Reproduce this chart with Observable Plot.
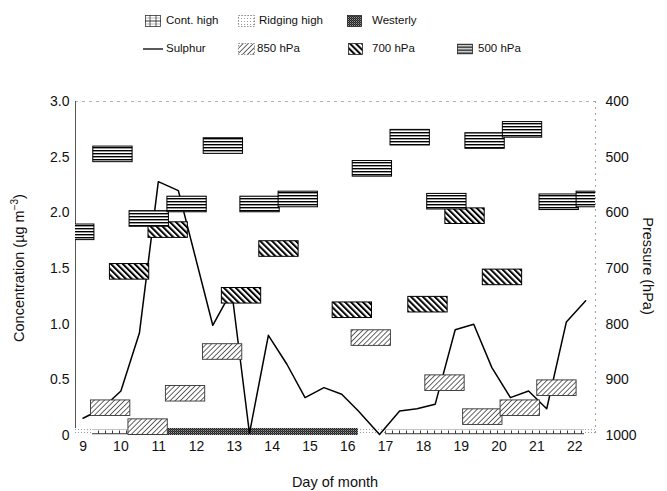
<!DOCTYPE html>
<html><head><meta charset="utf-8">
<script src="https://cdn.jsdelivr.net/npm/d3@7"></script>
<script src="https://cdn.jsdelivr.net/npm/@observablehq/plot@0.6"></script>
<style>
body{margin:0;background:#fff;font-family:"Liberation Sans",Arial,sans-serif;}
#wrap{position:relative;width:667px;height:491px;overflow:hidden;background:#fff}
#chart{position:absolute;left:0;top:0}
.lg{position:absolute;font-size:11.5px;color:#111;line-height:1;white-space:nowrap;transform:translateY(-50%)}
.ic{position:absolute;transform:translateY(-50%)}
.ax{position:absolute;font-size:14.5px;color:#111;white-space:nowrap;line-height:1}
</style></head><body>
<svg width="0" height="0" style="position:absolute"><defs>
<pattern id="pat500" patternUnits="userSpaceOnUse" width="6" height="3">
  <rect width="6" height="3" fill="#fff"/><rect width="6" height="1.4" fill="#000"/>
</pattern>
<pattern id="pat700" patternUnits="userSpaceOnUse" width="4.2" height="4.2" patternTransform="rotate(-45)">
  <rect width="4.2" height="4.2" fill="#fff"/><rect width="2" height="4.2" fill="#000"/>
</pattern>
<pattern id="pat850" patternUnits="userSpaceOnUse" width="3.6" height="3.6" patternTransform="rotate(45)">
  <rect width="3.6" height="3.6" fill="#fff"/><rect width="0.9" height="3.6" fill="#555"/>
</pattern>
<pattern id="patWest" patternUnits="userSpaceOnUse" width="2" height="2">
  <rect width="2" height="2" fill="#222"/><rect x="1" y="0" width="1" height="1" fill="#999"/><rect x="0" y="1" width="1" height="1" fill="#555"/>
</pattern>
<pattern id="patRidge" patternUnits="userSpaceOnUse" width="3" height="3">
  <rect width="3" height="3" fill="#fff"/><rect width="1" height="1" fill="#999"/>
</pattern>
<pattern id="patCont" patternUnits="userSpaceOnUse" x="0" y="1" width="7" height="7">
  <rect width="7" height="7" fill="#fff"/>
  <rect y="1" width="7" height="0.7" fill="#aaa"/>
  <rect y="5.3" width="7" height="0.9" fill="#222"/>
  <rect x="0" y="2.5" width="0.9" height="3" fill="#222"/>
</pattern>
</defs></svg>
<div id="wrap"><div id="chart"></div></div>
<script>
// ---- data ----
const days = [9,10,11,12,13,14,15,16,17,18,19,20,21,22];
const sulphurDay  = [9.0, 9.5, 10.0, 10.49, 10.99, 11.52, 12.43, 12.93, 13.4, 13.9, 14.39, 14.87, 15.37, 15.84, 16.28, 16.84, 17.37, 17.83, 18.31, 18.84, 19.33, 19.81, 20.3, 20.78, 21.26, 21.78, 22.29];
const sulphurConc = [0.155, 0.24, 0.40, 0.92, 2.28, 2.20, 0.99, 1.30, 0.02, 0.90, 0.64, 0.34, 0.43, 0.37, 0.22, 0.01, 0.22, 0.24, 0.28, 0.95, 1.00, 0.61, 0.34, 0.40, 0.24, 1.02, 1.21];

const h500Start = [8.26, 9.27, 10.23, 11.23, 12.19, 13.16, 14.17, 16.13, 17.13, 18.10, 19.11, 20.10, 21.07, 22.05];
const h500Pres  = [635, 495, 611, 585, 480, 585, 576, 521, 465, 580, 471, 451, 581, 576];
const h700Start = [9.71, 10.73, 12.67, 13.66, 15.60, 17.60, 18.58, 19.57];
const h700Pres  = [706, 631, 749, 665, 775, 765, 606, 716];
const h850Start = [9.21, 10.20, 11.19, 12.17, 16.10, 18.05, 19.05, 20.04, 21.01];
const h850Pres  = [951, 985, 925, 850, 825, 906, 967, 951, 915];

const synType  = ["Ridging high", "Cont. high", "Westerly", "Ridging high", "Cont. high", "Ridging high"];
const synStart = [8.8, 9.25, 10.25, 16.28, 17.0, 22.26];
const synEnd   = [9.25, 10.25, 16.28, 17.0, 22.26, 22.55];

const concTicks = [0, 0.5, 1, 1.5, 2, 2.5, 3];
const presTicks = [1000, 900, 800, 700, 600, 500, 400];

const legendRow1 = ["Cont. high", "Ridging high", "Westerly"];
const legendRow2 = ["Sulphur", "850 hPa", "700 hPa", "500 hPa"];

// ---- derived tables ----
const toConc = p => (1000 - p) / 200;
const boxW = 1.04, boxH = 14;
const line = sulphurDay.map((d, i) => ({day: d, conc: sulphurConc[i]}));
const mkBoxes = (st, pr) => st.map((s, i) => ({x1: s, x2: s + boxW, y1: toConc(pr[i] + boxH), y2: toConc(pr[i] - boxH)}));
const b500 = mkBoxes(h500Start, h500Pres);
const b700 = mkBoxes(h700Start, h700Pres);
const b850 = mkBoxes(h850Start, h850Pres);
const band = synType.map((t, i) => ({type: t, x1: synStart[i], x2: synEnd[i]}));
const patOf = {"Ridging high": "url(#patRidge)", "Cont. high": "url(#patCont)", "Westerly": "url(#patWest)"};
const bandMarks = Object.keys(patOf).map(t =>
  Plot.rect(band.filter(d => d.type === t), {x1: "x1", x2: "x2", y1: 0, y2: 0.063, fill: patOf[t], clip: true}));

const plot = Plot.plot({
  width: 667, height: 491,
  marginLeft: 75, marginRight: 72, marginTop: 101, marginBottom: 56,
  x: {domain: [8.8, 22.55]},
  y: {domain: [0, 3]},
  style: {fontFamily: "'Liberation Sans', Arial, sans-serif", fontSize: "14px", color: "#111", background: "transparent"},
  marks: [
    Plot.ruleY([3], {stroke: "#999", strokeDasharray: "3,4", strokeWidth: 0.8}),
    Plot.ruleX([8.8], {stroke: "#555", strokeWidth: 1}),
    Plot.ruleX([22.55], {stroke: "#888", strokeDasharray: "2,4", strokeWidth: 0.8}),
    Plot.axisY({anchor: "left", ticks: concTicks, tickFormat: d => d === 0 ? "0" : d.toFixed(1), tickSize: 0, tickPadding: 6, label: null, fontSize: 14}),
    Plot.axisY({anchor: "right", ticks: presTicks.map(toConc), tickFormat: c => String(Math.round(1000 - 200 * c)), tickSize: 0, tickPadding: 10, label: null, fontSize: 14}),
    Plot.axisX({ticks: days, tickFormat: d => String(d), tickSize: 0, tickPadding: 6, label: null, fontSize: 14}),
    ...bandMarks,
    Plot.line(line, {x: "day", y: "conc", stroke: "#000", strokeWidth: 1.5}),
    Plot.rect(b850, {x1: "x1", x2: "x2", y1: "y1", y2: "y2", fill: "url(#pat850)", stroke: "#333", strokeWidth: 0.9, clip: true}),
    Plot.rect(b700, {x1: "x1", x2: "x2", y1: "y1", y2: "y2", fill: "url(#pat700)", stroke: "#000", strokeWidth: 1, clip: true}),
    Plot.rect(b500, {x1: "x1", x2: "x2", y1: "y1", y2: "y2", fill: "url(#pat500)", stroke: "#000", strokeWidth: 1, clip: true})
  ]
});
const wrap = document.getElementById("wrap");
document.getElementById("chart").appendChild(plot);

// ---- legend ----
function addText(txt, x, y) {
  const d = document.createElement("div"); d.className = "lg"; d.textContent = txt;
  d.style.left = x + "px"; d.style.top = y + "px"; wrap.appendChild(d);
}
function addIcon(x, y, w, h, inner) {
  const d = document.createElement("div"); d.className = "ic";
  d.style.left = x + "px"; d.style.top = y + "px";
  d.innerHTML = `<svg width="${w}" height="${h}" style="display:block">${inner}</svg>`;
  wrap.appendChild(d);
}
const r1 = 21, r2 = 49;
const iconRect = (w, h, fill, stroke, dash) => `<rect x="0.5" y="0.5" width="${w - 1}" height="${h - 1}" fill="${fill}" stroke="${stroke}" stroke-width="0.8" ${dash ? 'stroke-dasharray="1.5,1.5"' : ''}/>`;
addIcon(145, r1, 16, 12, iconRect(16, 12, "#fff", "#333") +
  '<line x1="0" y1="6" x2="16" y2="6" stroke="#222" stroke-width="0.9"/><line x1="0" y1="3" x2="16" y2="3" stroke="#888" stroke-width="0.6"/><line x1="0" y1="9" x2="16" y2="9" stroke="#888" stroke-width="0.6"/><line x1="5" y1="0" x2="5" y2="12" stroke="#333" stroke-width="0.8"/><line x1="11" y1="0" x2="11" y2="12" stroke="#333" stroke-width="0.8"/>');
addText(legendRow1[0], 166, r1);
addIcon(238, r1, 17, 12, iconRect(17, 12, "url(#patRidge)", "#777", true));
addText(legendRow1[1], 259, r1);
addIcon(347, r1, 15, 12, iconRect(15, 12, "url(#patWest)", "#222"));
addText(legendRow1[2], 372, r1);
addIcon(143, r2, 20, 4, '<line x1="0" y1="2" x2="20" y2="2" stroke="#000" stroke-width="1.3"/>');
addText(legendRow2[0], 166, r2);
addIcon(238, r2, 17, 12, iconRect(17, 12, "url(#pat850)", "#777", true));
addText(legendRow2[1], 257, r2);
addIcon(348, r2, 15, 12, iconRect(15, 12, "url(#pat700)", "#222"));
addText(legendRow2[2], 372, r2);
addIcon(457, r2, 16, 11, iconRect(16, 11, "url(#pat500)", "#222"));
addText(legendRow2[3], 478, r2);

// ---- axis titles ----
function addAx(html, x, y, rot) {
  const d = document.createElement("div"); d.className = "ax"; d.innerHTML = html;
  d.style.left = x + "px"; d.style.top = y + "px";
  d.style.transform = `translate(-50%,-50%) rotate(${rot}deg)`;
  wrap.appendChild(d);
}
addAx("Day of month", 335, 482, 0);
addAx("Concentration (µg m<sup style='font-size:10px'>−3</sup>)", 18, 268, -90);
addAx("Pressure (hPa)", 648, 266, 90);
</script>
</body></html>
